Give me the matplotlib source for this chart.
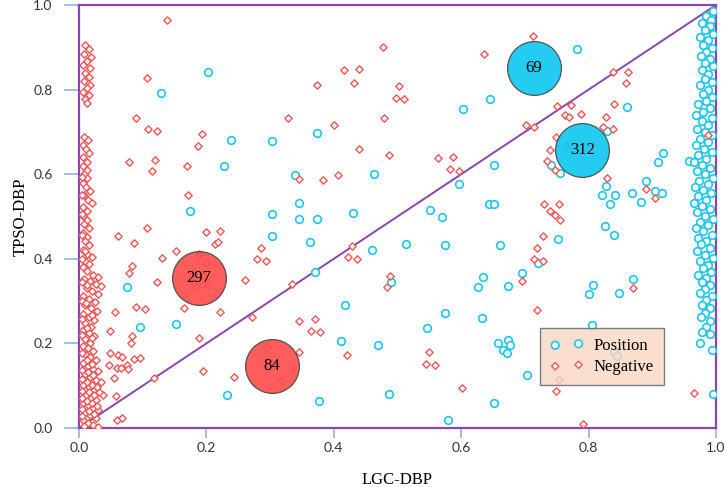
import matplotlib
matplotlib.use("Agg")
import matplotlib.pyplot as plt
import numpy as np

# ---- data ----
# Negative samples (red diamonds), scattered part
neg_scatter = [
    (0.138, 0.965), (0.107, 0.828), (0.373, 0.812), (0.416, 0.847), (0.440, 0.848), (0.431, 0.816),
    (0.478, 0.900), (0.089, 0.733), (0.108, 0.708), (0.122, 0.702), (0.193, 0.694), (0.187, 0.667),
    (0.328, 0.733), (0.401, 0.716), (0.479, 0.733), (0.440, 0.659), (0.487, 0.645), (0.078, 0.628),
    (0.119, 0.634), (0.115, 0.607), (0.170, 0.619), (0.346, 0.589), (0.383, 0.587), (0.407, 0.597),
    (0.171, 0.551), (0.061, 0.454), (0.106, 0.472), (0.086, 0.438), (0.199, 0.464), (0.222, 0.466),
    (0.214, 0.434), (0.218, 0.439), (0.130, 0.401), (0.153, 0.418), (0.188, 0.411), (0.199, 0.389),
    (0.285, 0.425), (0.279, 0.400), (0.293, 0.395), (0.084, 0.383), (0.079, 0.367), (0.123, 0.346),
    (0.183, 0.333), (0.202, 0.338), (0.261, 0.349), (0.335, 0.341), (0.429, 0.431), (0.422, 0.404),
    (0.437, 0.400), (0.483, 0.334), (0.488, 0.359), (0.057, 0.274), (0.089, 0.285), (0.103, 0.281),
    (0.165, 0.284), (0.222, 0.275), (0.272, 0.262), (0.345, 0.254), (0.370, 0.257), (0.365, 0.229),
    (0.379, 0.226), (0.048, 0.229), (0.084, 0.218), (0.081, 0.200), (0.189, 0.214), (0.048, 0.177),
    (0.062, 0.173), (0.067, 0.169), (0.047, 0.150), (0.086, 0.163), (0.095, 0.166), (0.060, 0.141),
    (0.066, 0.143), (0.075, 0.149), (0.077, 0.139), (0.055, 0.119), (0.118, 0.118), (0.195, 0.134),
    (0.243, 0.120), (0.295, 0.192), (0.319, 0.112), (0.346, 0.180), (0.421, 0.173), (0.037, 0.077),
    (0.058, 0.076), (0.059, 0.020), (0.068, 0.023),
    (0.713, 0.926), (0.636, 0.885), (0.502, 0.809), (0.497, 0.781), (0.511, 0.778), (0.839, 0.841),
    (0.862, 0.842), (0.858, 0.816), (0.840, 0.765), (0.750, 0.761), (0.773, 0.763), (0.763, 0.741),
    (0.769, 0.735), (0.788, 0.742), (0.828, 0.736), (0.701, 0.716), (0.715, 0.712), (0.823, 0.711),
    (0.838, 0.707), (0.749, 0.689), (0.564, 0.638), (0.587, 0.640), (0.582, 0.612), (0.597, 0.607),
    (0.739, 0.657), (0.734, 0.631), (0.748, 0.611), (0.764, 0.667), (0.829, 0.590), (0.890, 0.565),
    (0.904, 0.544), (0.730, 0.530), (0.754, 0.530), (0.740, 0.513), (0.747, 0.504), (0.755, 0.491),
    (0.729, 0.454), (0.719, 0.425), (0.714, 0.399), (0.728, 0.394), (0.695, 0.348), (0.869, 0.332),
    (0.719, 0.278), (0.550, 0.179), (0.544, 0.152), (0.559, 0.148), (0.601, 0.095), (0.749, 0.087),
    (0.754, 0.113), (0.791, 0.010), (0.966, 0.082), (0.987, 0.693),
]
# Negative samples piled up near LGC-DBP = 0
neg_column = [
    (0.010, 0.905), (0.016, 0.895), (0.008, 0.885), (0.019, 0.878), (0.012, 0.868), (0.006, 0.858),
    (0.017, 0.850), (0.010, 0.840), (0.015, 0.830), (0.008, 0.820), (0.018, 0.812), (0.012, 0.803),
    (0.006, 0.795), (0.016, 0.787), (0.010, 0.778), (0.013, 0.768),
    (0.008, 0.688), (0.014, 0.680), (0.006, 0.670), (0.011, 0.660), (0.016, 0.650), (0.007, 0.640),
    (0.012, 0.630), (0.006, 0.620), (0.013, 0.610), (0.008, 0.600), (0.012, 0.590), (0.006, 0.580),
    (0.011, 0.570), (0.018, 0.560), (0.008, 0.550), (0.014, 0.540), (0.020, 0.532), (0.007, 0.522),
    (0.012, 0.512), (0.006, 0.502), (0.013, 0.492), (0.008, 0.482), (0.015, 0.472), (0.006, 0.462),
    (0.012, 0.452), (0.009, 0.442), (0.016, 0.432), (0.007, 0.422), (0.013, 0.412), (0.020, 0.405),
    (0.009, 0.396), (0.016, 0.388), (0.006, 0.380), (0.012, 0.372),
    (0.022, 0.362), (0.030, 0.358), (0.008, 0.352), (0.017, 0.347), (0.026, 0.340), (0.034, 0.335),
    (0.012, 0.330), (0.021, 0.323), (0.030, 0.317), (0.006, 0.312), (0.016, 0.305), (0.025, 0.298),
    (0.010, 0.290), (0.019, 0.283), (0.028, 0.276), (0.006, 0.270), (0.015, 0.262), (0.024, 0.255),
    (0.010, 0.248), (0.019, 0.240), (0.007, 0.232), (0.015, 0.225), (0.024, 0.218), (0.010, 0.210),
    (0.018, 0.202), (0.006, 0.195), (0.014, 0.188), (0.022, 0.181), (0.010, 0.174), (0.018, 0.167),
    (0.026, 0.160), (0.006, 0.153), (0.014, 0.147), (0.022, 0.140), (0.030, 0.134), (0.010, 0.127),
    (0.018, 0.121), (0.026, 0.114), (0.034, 0.108), (0.007, 0.102), (0.015, 0.096), (0.023, 0.090),
    (0.031, 0.084), (0.011, 0.078), (0.019, 0.072), (0.027, 0.066), (0.006, 0.060), (0.014, 0.054),
    (0.022, 0.048), (0.030, 0.042), (0.010, 0.036), (0.018, 0.030), (0.026, 0.024), (0.006, 0.018),
    (0.014, 0.012), (0.022, 0.006), (0.008, 0.004), (0.030, 0.003),
    (0.004, 0.345), (0.012, 0.338), (0.004, 0.300), (0.011, 0.296), (0.020, 0.268), (0.004, 0.258),
    (0.012, 0.236), (0.004, 0.220), (0.020, 0.212), (0.004, 0.178), (0.012, 0.160), (0.020, 0.152),
    (0.004, 0.138), (0.014, 0.133), (0.022, 0.126), (0.004, 0.116), (0.012, 0.108), (0.020, 0.102),
    (0.028, 0.097), (0.004, 0.088), (0.015, 0.084), (0.024, 0.078), (0.004, 0.070), (0.012, 0.064),
    (0.020, 0.058), (0.028, 0.052), (0.004, 0.044), (0.016, 0.040), (0.024, 0.034), (0.004, 0.028),
    (0.004, 0.550), (0.004, 0.456), (0.010, 0.418), (0.004, 0.400), (0.004, 0.594), (0.004, 0.505),
]
# Positive samples (cyan circles), scattered part
pos_scatter = [
    (0.202, 0.842), (0.129, 0.792), (0.239, 0.682), (0.303, 0.678), (0.373, 0.697), (0.227, 0.620),
    (0.339, 0.597), (0.463, 0.600), (0.175, 0.514), (0.303, 0.506), (0.345, 0.532), (0.346, 0.494),
    (0.374, 0.494), (0.430, 0.509), (0.303, 0.454), (0.363, 0.440), (0.076, 0.334), (0.370, 0.369),
    (0.460, 0.420), (0.152, 0.247), (0.095, 0.239), (0.417, 0.292), (0.412, 0.205), (0.469, 0.196),
    (0.233, 0.077), (0.377, 0.063), (0.486, 0.080),
    (0.782, 0.895), (0.646, 0.779), (0.603, 0.754), (0.861, 0.760), (0.829, 0.701), (0.652, 0.622),
    (0.597, 0.578), (0.741, 0.622), (0.755, 0.603), (0.917, 0.650), (0.909, 0.628), (0.957, 0.632),
    (0.828, 0.571), (0.890, 0.583), (0.904, 0.561), (0.915, 0.556), (0.821, 0.551), (0.842, 0.552),
    (0.868, 0.555), (0.882, 0.534), (0.834, 0.530), (0.643, 0.530), (0.652, 0.530), (0.551, 0.515),
    (0.570, 0.500), (0.826, 0.477), (0.840, 0.456), (0.752, 0.448), (0.513, 0.435), (0.574, 0.432),
    (0.661, 0.433), (0.720, 0.389), (0.696, 0.367), (0.634, 0.356), (0.626, 0.333), (0.674, 0.336),
    (0.490, 0.346), (0.869, 0.352), (0.807, 0.338), (0.800, 0.317), (0.848, 0.320), (0.574, 0.273),
    (0.632, 0.259), (0.547, 0.236), (0.806, 0.244), (0.658, 0.202), (0.674, 0.207), (0.677, 0.196),
    (0.666, 0.184), (0.672, 0.177), (0.704, 0.125), (0.652, 0.060), (0.580, 0.020), (0.840, 0.180),
    (0.845, 0.170), (0.975, 0.202), (0.994, 0.184), (0.995, 0.080),
]
# Positive samples piled up near LGC-DBP = 1
pos_column = [
    (0.995, 0.985), (0.985, 0.975), (0.992, 0.965), (0.978, 0.958), (0.990, 0.950), (0.983, 0.940),
    (0.995, 0.932), (0.975, 0.925), (0.988, 0.918), (0.980, 0.905), (0.993, 0.898), (0.985, 0.888),
    (0.976, 0.880), (0.991, 0.872), (0.983, 0.862), (0.995, 0.855), (0.978, 0.846), (0.988, 0.838),
    (0.982, 0.826), (0.993, 0.818), (0.975, 0.810), (0.987, 0.800), (0.980, 0.790), (0.994, 0.783),
    (0.985, 0.772), (0.972, 0.765), (0.990, 0.757), (0.980, 0.748), (0.968, 0.740), (0.993, 0.733),
    (0.978, 0.725), (0.987, 0.716), (0.970, 0.708), (0.983, 0.700), (0.994, 0.692), (0.975, 0.684),
    (0.988, 0.676), (0.968, 0.668), (0.981, 0.660), (0.993, 0.652), (0.972, 0.645), (0.985, 0.637),
    (0.965, 0.630), (0.978, 0.622), (0.991, 0.615), (0.970, 0.607), (0.983, 0.600), (0.995, 0.592),
    (0.974, 0.585), (0.987, 0.578), (0.967, 0.570), (0.980, 0.562), (0.992, 0.555), (0.972, 0.548),
    (0.985, 0.540), (0.966, 0.532), (0.978, 0.525), (0.990, 0.518), (0.970, 0.510), (0.983, 0.502),
    (0.995, 0.495), (0.975, 0.487), (0.988, 0.480), (0.968, 0.472), (0.980, 0.465), (0.993, 0.457),
    (0.972, 0.450), (0.985, 0.442), (0.977, 0.434), (0.990, 0.426), (0.970, 0.418), (0.983, 0.410),
    (0.995, 0.402), (0.975, 0.394), (0.987, 0.386), (0.980, 0.378), (0.992, 0.370), (0.972, 0.362),
    (0.985, 0.354), (0.978, 0.345), (0.990, 0.337), (0.983, 0.328), (0.975, 0.320), (0.993, 0.312),
    (0.985, 0.302), (0.978, 0.292), (0.990, 0.283), (0.983, 0.272), (0.977, 0.262), (0.990, 0.252),
    (0.984, 0.240), (0.978, 0.228), (0.991, 0.222),
]
# summary bubbles: (x, y, count)
pos_counts = [(0.714, 0.850, 69), (0.790, 0.657, 312)]
neg_counts = [(0.188, 0.355, 297), (0.303, 0.147, 84)]

ticks = [0.0, 0.2, 0.4, 0.6, 0.8, 1.0]

RED = '#f25555'
CYAN = '#1cc6ef'
PURPLE = '#8a45b0'
TICKC = '#8db6e6'

fig = plt.figure(figsize=(7.26, 4.87), dpi=100)
ax = fig.add_axes([0.1088, 0.1211, 0.8774, 0.8686])

neg = np.array(neg_scatter + neg_column)
pos = np.array(pos_scatter + pos_column)

ax.plot([0, 1], [0, 1], color=PURPLE, lw=1.4, zorder=2)

ax.scatter(pos[:, 0], pos[:, 1], marker='o', s=30, facecolors='white',
           edgecolors=CYAN, linewidths=1.2, label='Position', zorder=3)
ax.scatter(neg[:, 0], neg[:, 1], marker='D', s=14, facecolors='white',
           edgecolors=RED, linewidths=1.0, label='Negative', zorder=3)

for x, y, n in pos_counts:
    ax.scatter([x], [y], s=1500, color='#14c8f0', edgecolors='#4a4a4a',
               linewidths=0.9, alpha=0.93, zorder=5)
    ax.text(x, y, str(n), ha='center', va='center', fontsize=12,
            family='Liberation Serif', zorder=6)
for x, y, n in neg_counts:
    ax.scatter([x], [y], s=1500, color='#ff4f4f', edgecolors='#4a4a4a',
               linewidths=0.9, alpha=0.93, zorder=5)
    ax.text(x, y, str(n), ha='center', va='center', fontsize=12,
            family='Liberation Serif', zorder=6)

ax.set_xlim(0, 1)
ax.set_ylim(0, 1)
ax.set_xticks(ticks)
ax.set_yticks(ticks)
ax.set_xticklabels(['%.1f' % t for t in ticks])
ax.set_yticklabels(['%.1f' % t for t in ticks])
for s in ax.spines.values():
    s.set_color(PURPLE)
    s.set_linewidth(1.6)
ax.tick_params(axis='x', direction='out', length=7, width=1.2, color=TICKC,
               labelcolor='#333333', labelsize=10, pad=3)
ax.tick_params(axis='y', direction='out', length=11, width=1.2, color=TICKC,
               labelcolor='#333333', labelsize=10, pad=8)
for lab in ax.get_xticklabels() + ax.get_yticklabels():
    lab.set_family('Lato')

ax.set_xlabel('LGC-DBP', family='Liberation Serif', fontsize=12, labelpad=13)
ax.set_ylabel('TPSO-DBP', family='Liberation Serif', fontsize=12, labelpad=3)

leg = ax.legend(loc='center', bbox_to_anchor=(0.721, 0.099, 0.2, 0.142),
                scatterpoints=2, fancybox=False, framealpha=0.8,
                prop={'family': 'Liberation Serif', 'size': 12},
                handletextpad=0.6, labelspacing=0.3, borderpad=0.6)
leg.get_frame().set_facecolor('#f9d8c3')
leg.get_frame().set_edgecolor('#56606e')
leg.get_frame().set_linewidth(1.0)
leg.set_zorder(7)

fig.savefig('out.png', dpi=100)
